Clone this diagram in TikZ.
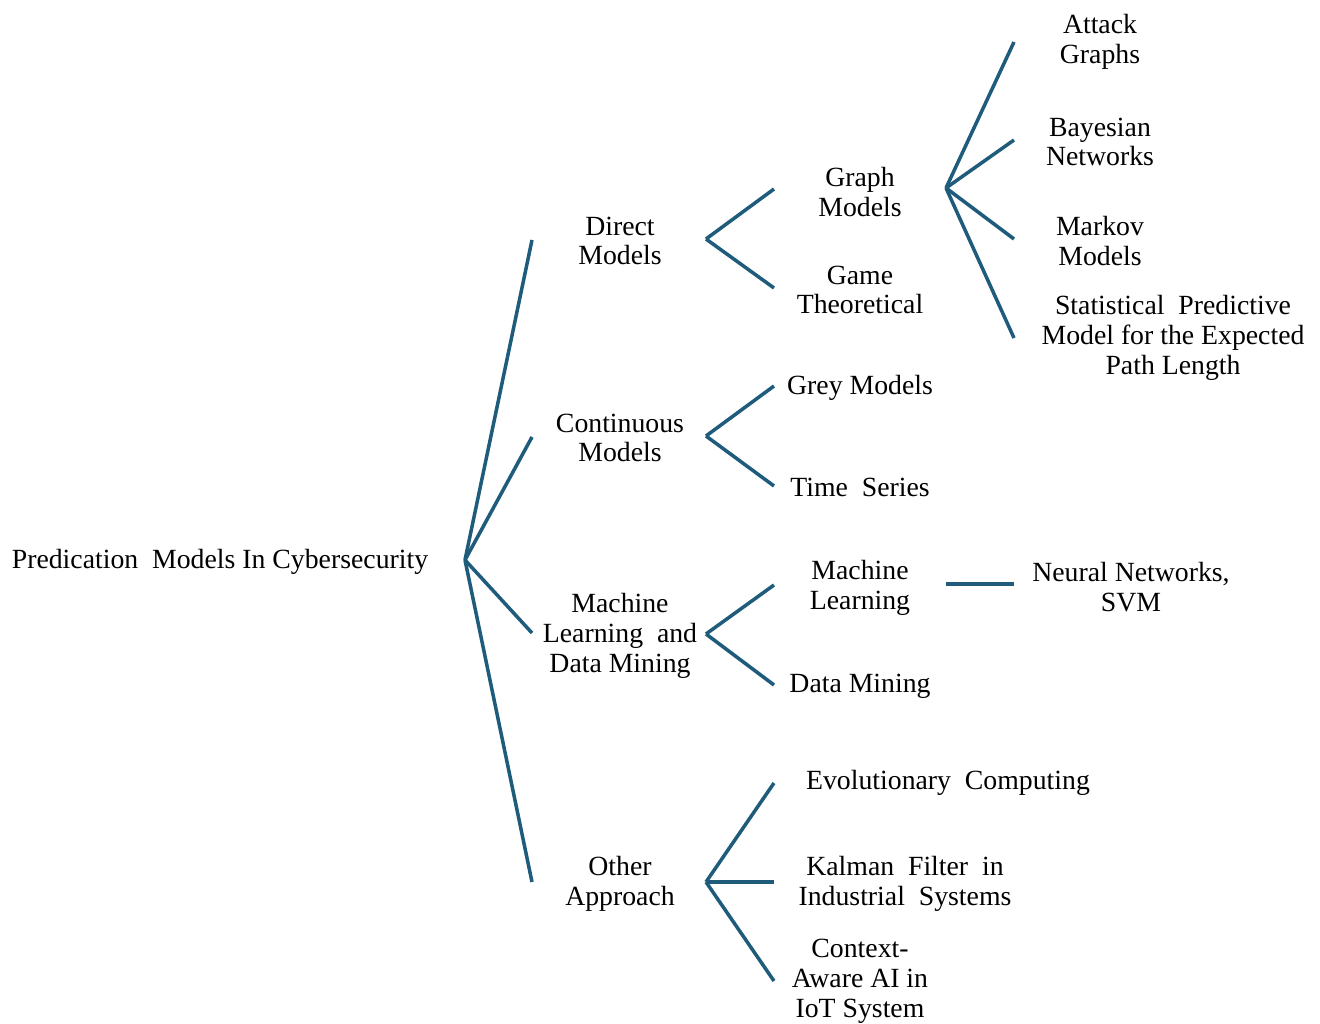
\documentclass[tikz,border=0pt]{standalone}
\usepackage{fontspec}
\setmainfont{Liberation Serif}
\definecolor{linec}{RGB}{31,92,124}
\begin{document}
\begin{tikzpicture}[x=0.02cm,y=-0.02cm,
  lbl/.style={align=center,inner sep=0pt,font=\fontsize{15.8}{17}\selectfont},
  conn/.style={draw=linec,line width=2pt}]
\useasboundingbox (0,0) rectangle (1320,1024);
% texts
\node[lbl] (root) at (220,562) {Predication\ \ Models\ In Cybersecurity};
\node[lbl] (direct) at (620,241) {Direct\\Models};
\node[lbl] (cont) at (620,438) {Continuous\\Models};
\node[lbl] (mldm) at (620,636) {Machine\\Learning\ \ and\\Data Mining};
\node[lbl] (other) at (620,884) {Other\\Approach};
\node[lbl] (graph) at (860,192) {Graph\\Models};
\node[lbl] (game) at (860,290) {Game\\Theoretical};
\node[lbl] (grey) at (860,388) {Grey\ Models};
\node[lbl] (time) at (860,487) {Time\ \ Series};
\node[lbl] (ml) at (860,588) {Machine\\Learning};
\node[lbl] (dm) at (860,686) {Data Mining};
\node[lbl] (evo) at (948,783) {Evolutionary\ \ Computing};
\node[lbl] (kal) at (905,884) {Kalman\ \ Filter\ \ in\\Industrial\ \ Systems};
\node[lbl] (ctx) at (860,981) {Context-\\Aware AI in\\IoT System};
\node[lbl] (attack) at (1100,42) {Attack\\Graphs};
\node[lbl] (bayes) at (1100,142) {Bayesian\\Networks};
\node[lbl] (markov) at (1100,241) {Markov\\Models};
\node[lbl] (stat) at (1173,338) {Statistical\ \ Predictive\\Model for the Expected\\Path Length};
\node[lbl] (nn) at (1131,587) {Neural Networks,\\SVM};
% fan points and line ends
\coordinate (rootF) at (465,560);
\coordinate (directE) at (532,240);
\coordinate (contE) at (532,437);
\coordinate (mldmE) at (532,633);
\coordinate (otherE) at (532,882);
\coordinate (directF) at (706,239);
\coordinate (graphE) at (774,189);
\coordinate (gameE) at (774,288);
\coordinate (contF) at (706,436);
\coordinate (greyE) at (774,386);
\coordinate (timeE) at (774,486);
\coordinate (mldmF) at (706,634);
\coordinate (mlE) at (774,585);
\coordinate (dmE) at (774,685);
\coordinate (otherF) at (706,882);
\coordinate (evoE) at (774,783);
\coordinate (kalE) at (774,882);
\coordinate (ctxE) at (774,981);
\coordinate (graphF) at (946,188);
\coordinate (attackE) at (1014,42);
\coordinate (bayesE) at (1014,140);
\coordinate (markovE) at (1014,239);
\coordinate (statE) at (1014,338);
\coordinate (mlF) at (946,584);
\coordinate (nnE) at (1014,584);
% connectors
\foreach \e in {directE,contE,mldmE,otherE} \draw[conn] (rootF) -- (\e);
\foreach \e in {graphE,gameE} \draw[conn] (directF) -- (\e);
\foreach \e in {greyE,timeE} \draw[conn] (contF) -- (\e);
\foreach \e in {mlE,dmE} \draw[conn] (mldmF) -- (\e);
\foreach \e in {evoE,kalE,ctxE} \draw[conn] (otherF) -- (\e);
\foreach \e in {attackE,bayesE,markovE,statE} \draw[conn] (graphF) -- (\e);
\draw[conn] (mlF) -- (nnE);
\end{tikzpicture}
\end{document}
